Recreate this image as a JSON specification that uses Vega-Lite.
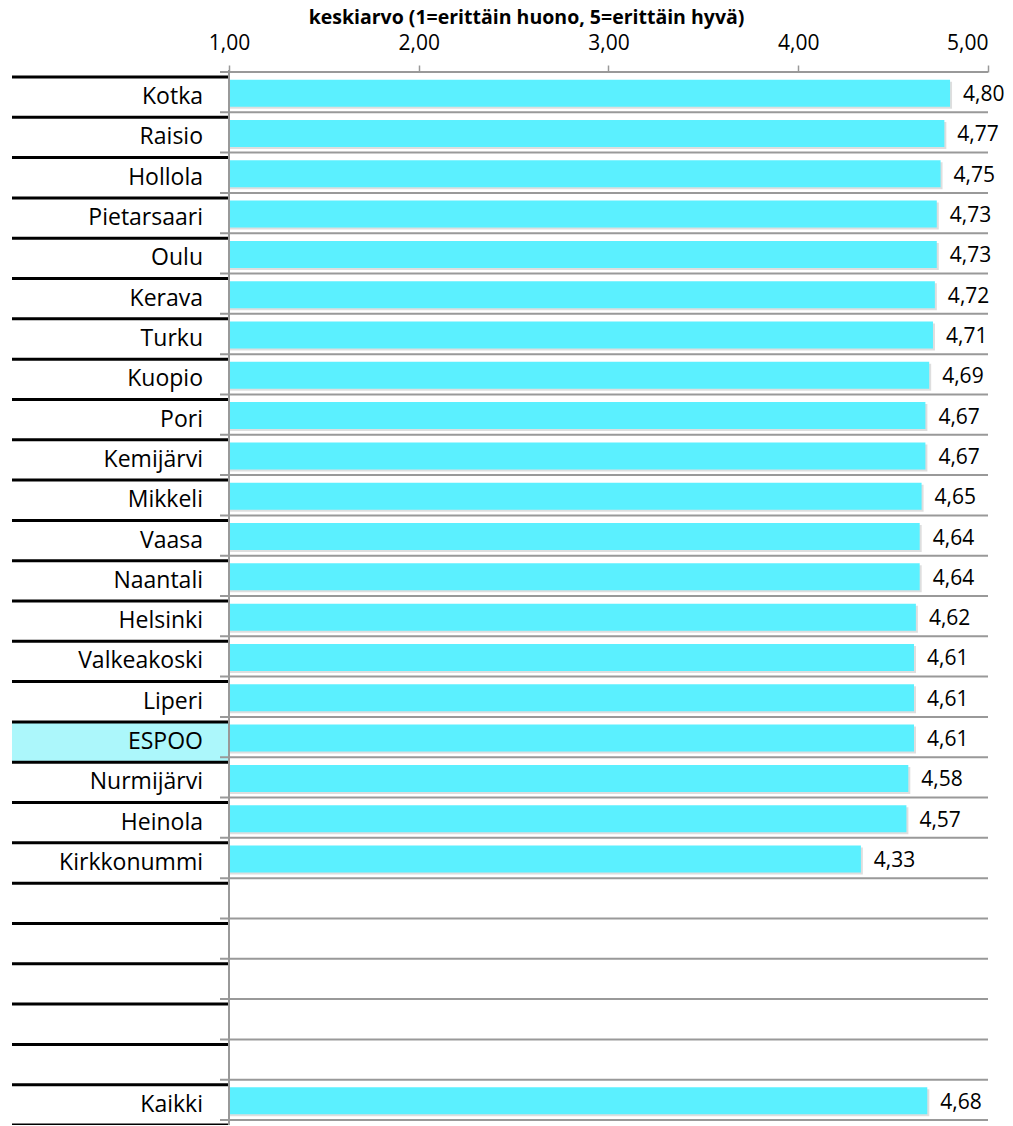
{
  "$schema": "https://vega.github.io/schema/vega-lite/v6.json",
  "autosize": "none",
  "width": 976,
  "height": 1048,
  "padding": {"left": 12, "top": 77, "right": 25, "bottom": 0},
  "background": "white",
  "config": {
    "view": {"stroke": null},
    "locale": {"number": {"decimal": ",", "thousands": " ", "grouping": [3], "currency": ["", " €"]}},
    "font": "Open Sans"
  },
  "data": {
    "values": [
      {"nro": 1, "kunta": "Kotka", "keskiarvo": 4.80},
      {"nro": 2, "kunta": "Raisio", "keskiarvo": 4.77},
      {"nro": 3, "kunta": "Hollola", "keskiarvo": 4.75},
      {"nro": 4, "kunta": "Pietarsaari", "keskiarvo": 4.73},
      {"nro": 5, "kunta": "Oulu", "keskiarvo": 4.73},
      {"nro": 6, "kunta": "Kerava", "keskiarvo": 4.72},
      {"nro": 7, "kunta": "Turku", "keskiarvo": 4.71},
      {"nro": 8, "kunta": "Kuopio", "keskiarvo": 4.69},
      {"nro": 9, "kunta": "Pori", "keskiarvo": 4.67},
      {"nro": 10, "kunta": "Kemijärvi", "keskiarvo": 4.67},
      {"nro": 11, "kunta": "Mikkeli", "keskiarvo": 4.65},
      {"nro": 12, "kunta": "Vaasa", "keskiarvo": 4.64},
      {"nro": 13, "kunta": "Naantali", "keskiarvo": 4.64},
      {"nro": 14, "kunta": "Helsinki", "keskiarvo": 4.62},
      {"nro": 15, "kunta": "Valkeakoski", "keskiarvo": 4.61},
      {"nro": 16, "kunta": "Liperi", "keskiarvo": 4.61},
      {"nro": 17, "kunta": "ESPOO", "keskiarvo": 4.61},
      {"nro": 18, "kunta": "Nurmijärvi", "keskiarvo": 4.58},
      {"nro": 19, "kunta": "Heinola", "keskiarvo": 4.57},
      {"nro": 20, "kunta": "Kirkkonummi", "keskiarvo": 4.33},
      {"nro": 21, "kunta": "", "keskiarvo": null},
      {"nro": 22, "kunta": "", "keskiarvo": null},
      {"nro": 23, "kunta": "", "keskiarvo": null},
      {"nro": 24, "kunta": "", "keskiarvo": null},
      {"nro": 25, "kunta": "", "keskiarvo": null},
      {"nro": 26, "kunta": "Kaikki", "keskiarvo": 4.68}
    ]
  },
  "layer": [
    {
      "transform": [{"filter": "datum.kunta === 'ESPOO'"}],
      "mark": {"type": "bar", "color": "#acf7fb", "height": {"band": 1}},
      "encoding": {
        "y": {"field": "nro", "type": "ordinal", "axis": null,
              "scale": {"domain": [1,2,3,4,5,6,7,8,9,10,11,12,13,14,15,16,17,18,19,20,21,22,23,24,25,26], "paddingInner": 0, "paddingOuter": 0}},
        "x": {"datum": -0.1436, "type": "quantitative",
              "scale": {"domain": [-0.1436, 5], "nice": false, "zero": false},
              "axis": {"orient": "top", "values": [1, 2, 3, 4, 5], "format": ".2f",
                       "domain": false, "grid": false, "offset": 5,
                       "tickColor": "#999999", "tickWidth": 1.5, "tickSize": 7,
                       "labelFontSize": 21, "labelColor": "#000000", "labelPadding": 12,
                       "title": "keskiarvo (1=erittäin huono, 5=erittäin hyvä)",
                       "titleFontSize": 19.5, "titleFontWeight": "bold", "titleColor": "#000000",
                       "titleX": 514, "titleY": -55, "titleAlign": "center", "titleBaseline": "middle"}},
        "x2": {"datum": 1}
      }
    },
    {
      "mark": {"type": "rule", "color": "#000000", "strokeWidth": 3},
      "encoding": {
        "y": {"field": "nro", "type": "ordinal", "bandPosition": 1},
        "x": {"datum": -0.1436, "type": "quantitative"},
        "x2": {"datum": 1}
      }
    },
    {
      "transform": [{"filter": "datum.nro === 1"}],
      "mark": {"type": "rule", "color": "#000000", "strokeWidth": 3},
      "encoding": {
        "y": {"field": "nro", "type": "ordinal", "bandPosition": 0},
        "x": {"datum": -0.1436, "type": "quantitative"},
        "x2": {"datum": 1}
      }
    },
    {
      "mark": {"type": "rule", "color": "#999999", "strokeWidth": 2, "yOffset": -5},
      "encoding": {
        "y": {"field": "nro", "type": "ordinal", "bandPosition": 1},
        "x": {"datum": 0.9526, "type": "quantitative"},
        "x2": {"datum": 5}
      }
    },
    {
      "transform": [{"filter": "datum.nro === 1"}],
      "mark": {"type": "rule", "color": "#999999", "strokeWidth": 2, "yOffset": -5},
      "encoding": {
        "y": {"field": "nro", "type": "ordinal", "bandPosition": 0},
        "x": {"datum": 0.9526, "type": "quantitative"},
        "x2": {"datum": 5}
      }
    },
    {
      "transform": [{"filter": "isValid(datum.keskiarvo)"}],
      "mark": {"type": "bar", "color": "#c8c8c8", "opacity": 0.6, "size": 27, "yOffset": -2, "xOffset": 2},
      "encoding": {
        "y": {"field": "nro", "type": "ordinal"},
        "x": {"field": "keskiarvo", "type": "quantitative"},
        "x2": {"datum": 1}
      }
    },
    {
      "transform": [{"filter": "isValid(datum.keskiarvo)"}],
      "mark": {"type": "bar", "color": "#5bf0ff", "size": 27, "yOffset": -4},
      "encoding": {
        "y": {"field": "nro", "type": "ordinal"},
        "x": {"field": "keskiarvo", "type": "quantitative"},
        "x2": {"datum": 1}
      }
    },
    {
      "mark": {"type": "rule", "color": "#999999", "strokeWidth": 2, "y": -7, "y2": {"expr": "height + 10"}},
      "encoding": {
        "x": {"datum": 1, "type": "quantitative"}
      }
    },
    {
      "transform": [{"filter": "isValid(datum.keskiarvo)"}],
      "mark": {"type": "text", "align": "left", "baseline": "middle", "dx": 13, "dy": -2, "fontSize": 21, "color": "#000000"},
      "encoding": {
        "y": {"field": "nro", "type": "ordinal"},
        "x": {"field": "keskiarvo", "type": "quantitative"},
        "text": {"field": "keskiarvo", "type": "quantitative", "format": ".2f"}
      }
    },
    {
      "mark": {"type": "text", "align": "right", "baseline": "middle", "dx": -26, "dy": 0, "fontSize": 23, "color": "#000000"},
      "encoding": {
        "y": {"field": "nro", "type": "ordinal"},
        "x": {"datum": 1, "type": "quantitative"},
        "text": {"field": "kunta", "type": "nominal"}
      }
    }
  ]
}
